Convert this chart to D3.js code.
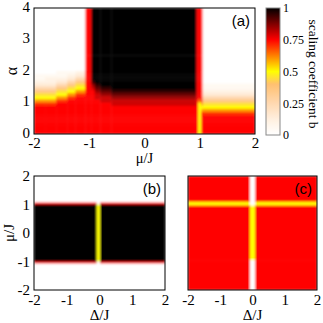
<!DOCTYPE html>
<html>
<head>
<meta charset="utf-8">
<script src="https://cdn.jsdelivr.net/npm/d3@7/dist/d3.min.js"></script>
<style>
body{margin:0;background:#fff}
svg text{font-family:"Liberation Serif","Times New Roman",serif}
svg text.tag{font-family:"Liberation Sans",Arial,sans-serif}
</style>
</head>
<body>
<script>
// value codes: position in LEVELS divided by 20 is the scaling coefficient b
const LEVELS = "0123456789ABCDEFGHIJK";

// panel (a): one string per mu/J column, alpha read from top (4) to bottom (0)
const aMuEdges = [-2,-1.8,-1.6,-1.4,-1.25,-1.15,-1.07,-0.96,-0.9,-0.8,-0.6,0.94,0.97,1.03,1.05,2];
const aAlphaEdges = [4,2.5,2,1.9,1.8,1.7,1.6,1.5,1.4,1.3,1.2,1.1,1,0.9,0.8,0.7,0.6,0.5,0.4,0.3,0.2,0.1,0];
const aColumns = [
  "0001123579ACEFFFFFFFFF",
  "0001223579ACEFFFFFFFFF",
  "001123579ACEFFFFFFFFFF",
  "00123579ACEFFFFFFFFFFF",
  "0023579ACEFFFFFFFFFFFF",
  "0023579ACEFFFFFFFFFFFF",
  "FFFFFFFFFFFFFFFFFFFFFF",
  "KKKKKJHGFFFFFFFFFFFFFF",
  "KKKKKKJIHGGFFFFFFFFFFF",
  "KKKKKKKJIHGGFFFFFFFFFF",
  "KKKKKKKKJIHGGFFFFFFFFF",
  "FFFFFFFFFFFFFFFFFFFFFF",
  "FFFFFFFFFFFDAAAAAAAAAA",
  "FFFFFFFFFFFFDACFFFFFFF",
  "0000001123579ACEFFFFFF"
];

// panel (b): Delta/J columns, mu/J rows top to bottom
const bDeltaEdges = [-2,-0.09,0.02,2];
const bMuEdges = [2,1.07,1,-1,-1.07,-2];
const bColumns = ["0FKF0","00A00","0FKF0"];

// panel (c)
const cDeltaEdges = [-2,-0.08,0.08,2];
const cMuEdges = [2,1.1,0.96,-0.95,-2];
const cColumns = ["FAFF","00A0","FAFF"];

const aXTicks = [-2,-1,0,1,2];
const aYTicks = [0,1,2,3,4];
const bTicks = [-2,-1,0,1,2];
const cbTicks = [0,0.25,0.5,0.75,1];

let color = d3.scaleLinear()
  .domain([0,0.12,0.25,0.4,0.5,0.625,0.75,0.875,1])
  .range(["#ffffff","#fff0e0","#ffd8b0","#ffc070","#ffff00","#ff8000","#ff0000","#800000","#000000"]);

let svg = d3.select("body").append("svg")
  .attr("width",323).attr("height",323);

let defs = svg.append("defs");
let filt = defs.append("filter").attr("id","soft")
  .attr("x",0).attr("y",0).attr("width",1).attr("height",1);
filt.append("feGaussianBlur").attr("stdDeviation",1.1).attr("edgeMode","duplicate");

function heatmap(id, box, xDom, yDom, xEdges, yEdges, columns){
  let x = d3.scaleLinear().domain(xDom).range([box.l, box.r]);
  let y = d3.scaleLinear().domain(yDom).range([box.b, box.t]);
  defs.append("clipPath").attr("id","clip"+id)
    .append("rect").attr("x",box.l).attr("y",box.t)
    .attr("width",box.r-box.l).attr("height",box.b-box.t);
  let cells = [];
  columns.forEach((s,i) => s.split("").forEach((ch,j) => {
    cells.push({x0:xEdges[i], x1:xEdges[i+1], y0:yEdges[j], y1:yEdges[j+1], v:LEVELS.indexOf(ch)/20});
  }));
  let g = svg.append("g").attr("clip-path","url(#clip"+id+")")
    .append("g").attr("filter","url(#soft)");
  g.selectAll("rect").data(cells).join("rect")
    .attr("x",d => x(d.x0))
    .attr("y",d => y(d.y0))
    .attr("width",d => x(d.x1)-x(d.x0)+0.4)
    .attr("height",d => y(d.y1)-y(d.y0)+0.4)
    .attr("fill",d => color(d.v));
  svg.append("rect").attr("x",box.l).attr("y",box.t)
    .attr("width",box.r-box.l).attr("height",box.b-box.t)
    .attr("fill","none").attr("stroke","#000").attr("stroke-width",1);
  return {x:x, y:y};
}

function axis(gen, tr, pad){
  let a = svg.append("g").attr("transform",tr)
    .call(gen.tickSize(0).tickPadding(pad).tickFormat(d => String(d)));
  a.select(".domain").remove();
  a.attr("font-family",null);
  a.selectAll("text").attr("font-size","15px").attr("fill","#000");
  return a;
}

// panel (a)
let A = {l:34, r:255, t:8, b:134};
let sa = heatmap("a", A, [-2,2], [0,4], aMuEdges, aAlphaEdges, aColumns);
axis(d3.axisBottom(sa.x).tickValues(aXTicks), `translate(0,${A.b})`, 3);
axis(d3.axisLeft(sa.y).tickValues(aYTicks), `translate(${A.l},0)`, 4)
  .selectAll("text").attr("dy","0.22em");
svg.append("text").attr("x",(A.l+A.r)/2).attr("y",163).attr("text-anchor","middle")
  .attr("font-size","14.5px").text("μ/J");
svg.append("text").attr("transform",`translate(17,${(A.t+A.b)/2}) rotate(-90)`)
  .attr("text-anchor","middle").attr("font-size","16px").text("α");
svg.append("text").attr("class","tag").attr("x",A.r-5).attr("y",A.t+18).attr("text-anchor","end")
  .attr("font-size","15px").text("(a)");

// colour bar
let cbY = d3.scaleLinear().domain([0,1]).range([135,8]);
let grad = defs.append("linearGradient").attr("id","cbgrad")
  .attr("x1",0).attr("y1",1).attr("x2",0).attr("y2",0);
grad.selectAll("stop").data(d3.range(0,1.0001,0.025)).join("stop")
  .attr("offset",d => d).attr("stop-color",d => color(d));
svg.append("rect").attr("x",266).attr("y",cbY(1)).attr("width",14).attr("height",cbY(0)-cbY(1))
  .attr("fill","url(#cbgrad)").attr("stroke","#888").attr("stroke-width",1);
let cbAxis = svg.append("g").attr("transform","translate(280,0)")
  .call(d3.axisRight(cbY).tickValues(cbTicks).tickSize(0).tickPadding(3).tickFormat(d => String(d)));
cbAxis.select(".domain").remove();
cbAxis.attr("font-family",null);
cbAxis.selectAll("text").attr("font-size","12px").attr("fill","#000");
svg.append("text").attr("transform","translate(309,74) rotate(90)")
  .attr("text-anchor","middle").attr("font-size","13.5px").text("scaling coefficient b");

// panel (b)
let B = {l:34, r:165, t:176, b:290};
let sb = heatmap("b", B, [-2,2], [-2,2], bDeltaEdges, bMuEdges, bColumns);
axis(d3.axisBottom(sb.x).tickValues(bTicks), `translate(0,${B.b})`, 4);
axis(d3.axisLeft(sb.y).tickValues(bTicks), `translate(${B.l},0)`, 4);
svg.append("text").attr("x",(B.l+B.r)/2).attr("y",320).attr("text-anchor","middle")
  .attr("font-size","15px").text("Δ/J");
svg.append("text").attr("transform",`translate(14,${(B.t+B.b)/2}) rotate(-90)`)
  .attr("text-anchor","middle").attr("font-size","15px").text("μ/J");
svg.append("text").attr("class","tag").attr("x",B.r-4).attr("y",B.t+18).attr("text-anchor","end")
  .attr("font-size","15px").text("(b)");

// panel (c)
let C = {l:188, r:317, t:176, b:290};
let sc = heatmap("c", C, [-2,2], [-2,2], cDeltaEdges, cMuEdges, cColumns);
axis(d3.axisBottom(sc.x).tickValues(bTicks), `translate(0,${C.b})`, 4);
svg.append("text").attr("x",(C.l+C.r)/2).attr("y",320).attr("text-anchor","middle")
  .attr("font-size","15px").text("Δ/J");
svg.append("text").attr("class","tag").attr("x",C.r-5).attr("y",C.t+18).attr("text-anchor","end")
  .attr("font-size","15px").text("(c)");
</script>
</body>
</html>
